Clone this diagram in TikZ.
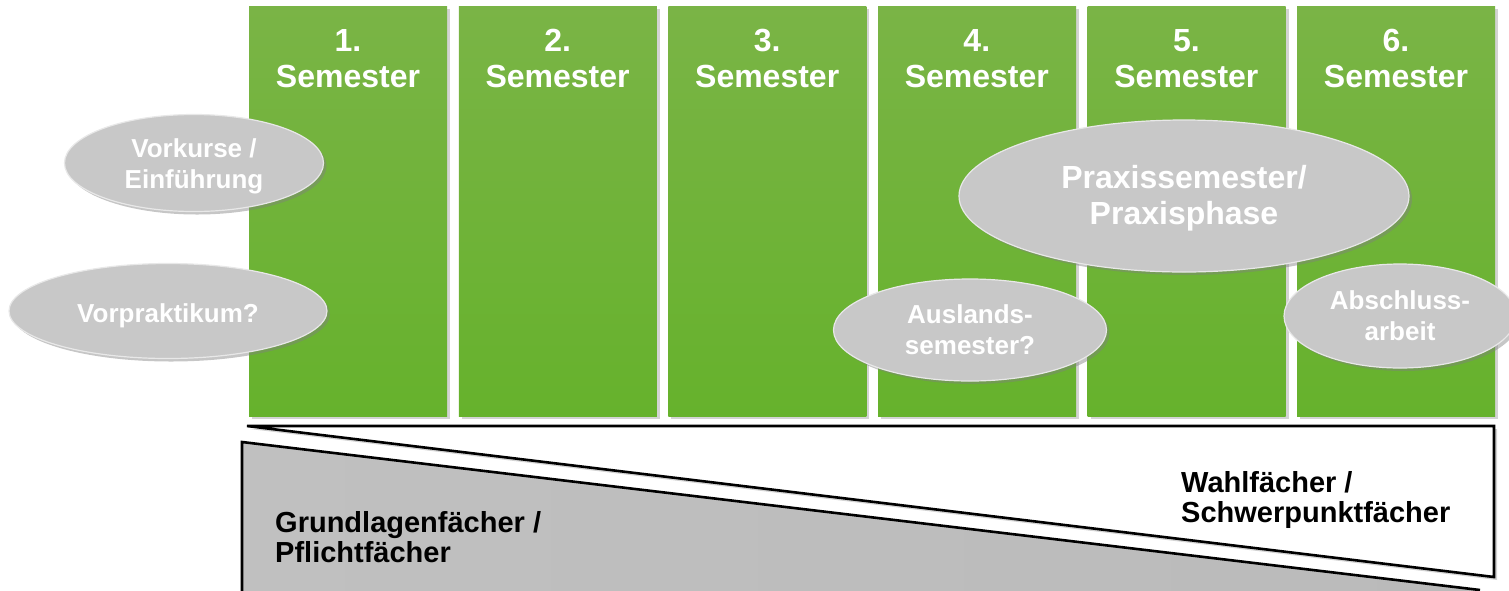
\documentclass[tikz,border=0pt]{standalone}
\usepackage{fontspec}
\setmainfont{Liberation Sans}
\usetikzlibrary{shapes.geometric,shadows}
\definecolor{semtop}{RGB}{122,180,70}
\definecolor{sembot}{RGB}{102,178,44}
\definecolor{ellfill}{RGB}{200,200,200}
\definecolor{ellrim}{RGB}{232,232,232}
\definecolor{grayL}{RGB}{192,192,192}
\definecolor{grayR}{RGB}{186,186,186}
\begin{document}
\begin{tikzpicture}[x=1pt,y=-1pt,
  semcol/.style={draw=none, top color=semtop, bottom color=sembot,
    minimum width=198pt, minimum height=410pt, anchor=north west, inner sep=0pt,
    drop shadow={opacity=0.35, shadow xshift=3pt, shadow yshift=-3pt}},
  semlabel/.style={text=white, font=\fontsize{32}{36}\selectfont\bfseries,
    align=center, anchor=north, inner sep=0pt},
  ell/.style={ellipse, fill=ellfill, draw=ellrim, line width=1.2pt, inner sep=0pt,
    text=white, align=center,
    drop shadow={opacity=0.45, shadow xshift=3pt, shadow yshift=-3pt}},
  ellsmall/.style={ell, font=\fontsize{26}{31}\selectfont\bfseries},
  elllarge/.style={ell, font=\fontsize{32}{36}\selectfont\bfseries},
  bottomtext/.style={text=black, font=\fontsize{29}{30}\selectfont\bfseries,
    align=left, anchor=west, inner sep=0pt},
  edge/.style={line width=2.6pt, line join=miter}
]
\useasboundingbox (0,0) rectangle (1509,590);

% semester columns
\foreach \i/\lbl in {0/1,1/2,2/3,3/4,4/5,5/6}{
  \node[semcol] (s\lbl) at ({249+209.6*\i},6) {};
  \node[semlabel] (l\lbl) at ({249+209.6*\i+99},29) {\lbl.\\Semester};
}

% ellipses
\node[ellsmall, minimum width=259pt, minimum height=97pt] (vk) at (194,163) {\rule{0pt}{25pt}Vorkurse /\\Einführung};
\node[ellsmall, minimum width=318pt, minimum height=95pt] (vp) at (168,311) {\rule{0pt}{28pt}Vorpraktikum?};
\node[elllarge, minimum width=450pt, minimum height=152pt] (ps) at (1184,196) {\rule{0pt}{27pt}Praxissemester/\\Praxisphase};
\node[ellsmall, minimum width=273pt, minimum height=102pt] (as) at (970,330) {Auslands-\\semester?};
\node[ellsmall, minimum width=232pt, minimum height=104pt] (ab) at (1400,316) {Abschluss-\\arbeit};

% bottom wedge shapes
\coordinate (gA) at (242,442);
\coordinate (gB) at (1480,590);
\coordinate (gC) at (242,600);
\shade[left color=grayL, right color=grayR] (gA) -- (gB) -- (1480,600) -- (gC) -- cycle;
\draw[edge] (gC) -- (gA) -- (gB);

\coordinate (wA) at (247,426);
\coordinate (wB) at (1494,426);
\coordinate (wC) at (1494,577);
\draw[edge, fill=white, drop shadow={opacity=0.35, shadow xshift=3pt, shadow yshift=-3pt}] (wA) -- (wB) -- (wC) -- cycle;

\node[bottomtext] (gl) at (275,537) {Grundlagenfächer /\\Pflichtfächer};
\node[bottomtext] (wf) at (1181,500) {Wahlfächer /\\Schwerpunktfächer};
\end{tikzpicture}
\end{document}
